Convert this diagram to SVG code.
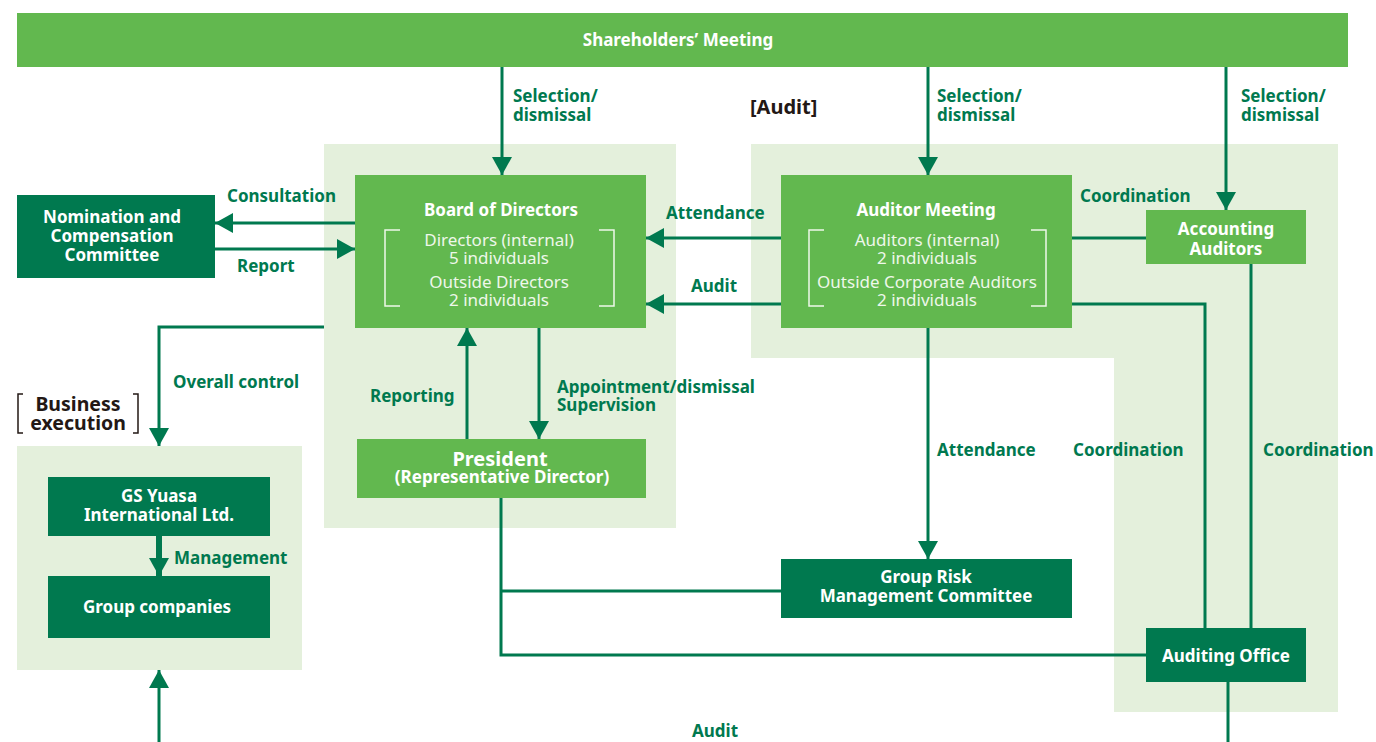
<svg xmlns="http://www.w3.org/2000/svg" width="1376" height="742" viewBox="0 0 1376 742">
<style>
.bg{fill:#ffffff}
.panel{fill:#e4f0dc}
.lg{fill:#62b84f}
.dg{fill:#00794f}
.t{font-family:"Noto Sans","Open Sans","Liberation Sans",sans-serif;font-weight:bold;font-size:17px}
.w{fill:#ffffff}
.lbl{fill:#00794f}
.dk{fill:#231815}
.thin{font-family:"Noto Sans","Open Sans","Liberation Sans",sans-serif;font-weight:normal;font-size:17px;fill:#eef7ea}
.c{text-anchor:middle}
.ln{stroke:#00794f;stroke-width:3;fill:none}
.br{stroke:#eef7ea;stroke-width:1.5;fill:none}
</style>
<defs>
<marker id="ah" viewBox="0 0 18 20" refX="18" refY="10" markerWidth="18" markerHeight="20" markerUnits="userSpaceOnUse" orient="auto">
<path d="M0,0 L18,10 L0,20 z" fill="#00794f"/>
</marker>
</defs>
<rect class="bg" x="0" y="0" width="1376" height="742"/>

<!-- panels -->
<rect class="panel" x="324" y="144" width="352" height="384"/>
<path class="panel" d="M751,144 H1338 V712 H1114 V358 H751 Z"/>
<rect class="panel" x="17" y="446" width="285" height="224"/>

<!-- connectors -->
<g id="connectors">
<line class="ln" x1="502" y1="67" x2="502" y2="175" marker-end="url(#ah)"/>
<line class="ln" x1="928" y1="67" x2="928" y2="175" marker-end="url(#ah)"/>
<line class="ln" x1="1226" y1="67" x2="1226" y2="210" marker-end="url(#ah)"/>
<line class="ln" x1="355" y1="223" x2="215" y2="223" marker-end="url(#ah)"/>
<line class="ln" x1="215" y1="249" x2="355" y2="249" marker-end="url(#ah)"/>
<line class="ln" x1="781" y1="238" x2="646" y2="238" marker-end="url(#ah)"/>
<line class="ln" x1="781" y1="304" x2="646" y2="304" marker-end="url(#ah)"/>
<line class="ln" x1="1072" y1="238" x2="1146" y2="238"/>
<polyline class="ln" points="1072,304 1205,304 1205,628"/>
<line class="ln" x1="1251" y1="264" x2="1251" y2="628"/>
<polyline class="ln" points="324,327 159,327 159,446" marker-end="url(#ah)"/>
<line class="ln" x1="467" y1="439" x2="467" y2="328" marker-end="url(#ah)"/>
<line class="ln" x1="539" y1="328" x2="539" y2="439" marker-end="url(#ah)"/>
<line class="ln" x1="928" y1="328" x2="928" y2="559" marker-end="url(#ah)"/>
<polyline class="ln" points="501,498 501,655 1146,655"/>
<line class="ln" x1="501" y1="591" x2="781" y2="591"/>
<line x1="159" y1="536" x2="159" y2="576" stroke="#00794f" stroke-width="6" marker-end="url(#ah)"/>
<line class="ln" x1="159" y1="742" x2="159" y2="670" marker-end="url(#ah)"/>
<line class="ln" x1="1228" y1="682" x2="1228" y2="742"/>
</g>

<!-- labels -->
<g id="labels" class="t lbl">
<text x="513" y="102">Selection/</text>
<text x="513" y="121">dismissal</text>
<text x="937" y="102">Selection/</text>
<text x="937" y="121">dismissal</text>
<text x="1241" y="102">Selection/</text>
<text x="1241" y="121">dismissal</text>
<text x="227" y="202">Consultation</text>
<text x="237" y="272">Report</text>
<text x="666" y="219">Attendance</text>
<text x="691" y="292">Audit</text>
<text x="1080" y="202">Coordination</text>
<text x="173" y="388">Overall control</text>
<text x="370" y="402">Reporting</text>
<text x="557" y="393">Appointment/dismissal</text>
<text x="557" y="411">Supervision</text>
<text x="937" y="456">Attendance</text>
<text x="1073" y="456">Coordination</text>
<text x="1263" y="456">Coordination</text>
<text x="174" y="564">Management</text>
<text x="692" y="737">Audit</text>
</g>
<text class="t dk" x="750" y="114" style="font-size:20px">[Audit]</text>

<g id="business-execution">
<path d="M23,394 H18 V433 H23" stroke="#231815" stroke-width="1.5" fill="none"/>
<path d="M133,394 H138 V433 H133" stroke="#231815" stroke-width="1.5" fill="none"/>
<text class="t dk c" x="78" y="411" style="font-size:19.5px">Business</text>
<text class="t dk c" x="78" y="430" style="font-size:19.5px">execution</text>
</g>

<!-- nodes -->
<g id="shareholders">
<rect class="lg" x="17" y="13" width="1331" height="54"/>
<text class="t w c" x="678" y="46">Shareholders’ Meeting</text>
</g>

<g id="nomination">
<rect class="dg" x="17" y="195" width="198" height="83"/>
<text class="t w c" x="112" y="223">Nomination and</text>
<text class="t w c" x="112" y="242">Compensation</text>
<text class="t w c" x="112" y="261">Committee</text>
</g>

<g id="board">
<rect class="lg" x="355" y="175" width="291" height="153"/>
<text class="t w c" x="501" y="216">Board of Directors</text>
<path class="br" d="M400,230 H385 V306 H400"/>
<path class="br" d="M599,230 H614 V306 H599"/>
<text class="thin c" x="499" y="246">Directors (internal)</text>
<text class="thin c" x="499" y="264">5 individuals</text>
<text class="thin c" x="499" y="288">Outside Directors</text>
<text class="thin c" x="499" y="306">2 individuals</text>
</g>

<g id="auditor-meeting">
<rect class="lg" x="781" y="175" width="291" height="153"/>
<text class="t w c" x="926" y="216">Auditor Meeting</text>
<path class="br" d="M824,230 H809 V306 H824"/>
<path class="br" d="M1031,230 H1046 V306 H1031"/>
<text class="thin c" x="927" y="246">Auditors (internal)</text>
<text class="thin c" x="927" y="264">2 individuals</text>
<text class="thin c" x="927" y="288">Outside Corporate Auditors</text>
<text class="thin c" x="927" y="306">2 individuals</text>
</g>

<g id="accounting-auditors">
<rect class="lg" x="1146" y="210" width="160" height="54"/>
<text class="t w c" x="1226" y="235">Accounting</text>
<text class="t w c" x="1226" y="255">Auditors</text>
</g>

<g id="president">
<rect class="lg" x="357" y="439" width="289" height="59"/>
<text class="t w c" x="500" y="466" style="font-size:20px">President</text>
<text class="t w c" x="502" y="483">(Representative Director)</text>
</g>

<g id="gs-yuasa">
<rect class="dg" x="48" y="477" width="222" height="59"/>
<text class="t w c" x="159" y="502">GS Yuasa</text>
<text class="t w c" x="159" y="521">International Ltd.</text>
</g>

<g id="group-companies">
<rect class="dg" x="48" y="576" width="222" height="62"/>
<text class="t w c" x="157" y="613">Group companies</text>
</g>

<g id="group-risk">
<rect class="dg" x="781" y="559" width="291" height="59"/>
<text class="t w c" x="926" y="583">Group Risk</text>
<text class="t w c" x="926" y="602">Management Committee</text>
</g>

<g id="auditing-office">
<rect class="dg" x="1146" y="628" width="160" height="54"/>
<text class="t w c" x="1226" y="662">Auditing Office</text>
</g>
</svg>
